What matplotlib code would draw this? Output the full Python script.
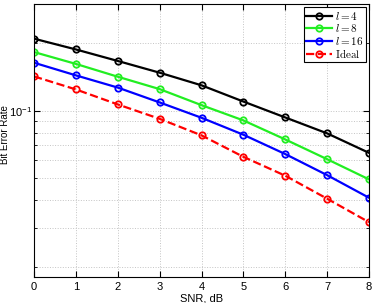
import numpy as np
import matplotlib.pyplot as plt
from matplotlib.ticker import LogLocator, NullFormatter

plt.rcParams['font.family'] = ['Liberation Sans', 'DejaVu Sans']
plt.rcParams['mathtext.fontset'] = 'cm'

snr = np.arange(0, 9)
ber_l4 = [0.210, 0.188, 0.167, 0.148, 0.130, 0.110, 0.0934, 0.0793, 0.0649]
ber_l8 = [0.183, 0.162, 0.142, 0.125, 0.106, 0.0906, 0.0745, 0.0608, 0.0494]
ber_l16 = [0.164, 0.144, 0.127, 0.109, 0.0931, 0.0782, 0.0641, 0.0516, 0.0409]
ber_ideal = [0.1425, 0.1246, 0.1068, 0.0921, 0.0777, 0.0623, 0.0513, 0.0405, 0.0318]

fig = plt.figure(figsize=(3.75, 3.03), dpi=100)
ax = fig.add_axes([34/375, 1 - 277/303, 335/375, 273/303])

style = dict(marker='o', markersize=4.6, markerfacecolor='none', markeredgewidth=1.3, linewidth=1.6)
ax.plot(snr, ber_l4, color='k', label=r'$l = 4$', **style)
ax.plot(snr, ber_l8, color='#22ee22', label=r'$l = 8$', **style)
ax.plot(snr, ber_l16, color='#0000ff', label=r'$l = 16$', **style)
ax.plot(snr, ber_ideal, color='#ff0000', linestyle='--', label=r'$\mathrm{Ideal}$', **style)

ax.set_yscale('log')
ax.set_xlim(0, 8)
ax.set_ylim(0.0181, 0.3)
ax.set_xticks(snr)
ax.yaxis.set_major_locator(LogLocator(base=10, numticks=10))
ax.yaxis.set_minor_locator(LogLocator(base=10, subs=np.arange(2, 10), numticks=10))
ax.yaxis.set_minor_formatter(NullFormatter())

ax.grid(True, which='major', linestyle=':', color='#c4c4c4', linewidth=0.7)
ax.grid(True, which='minor', axis='y', linestyle=':', color='#c4c4c4', linewidth=0.7)
ax.tick_params(which='both', direction='in', top=True, right=True, labelsize=8)
ax.tick_params(which='major', length=4)
ax.tick_params(which='minor', length=2)
ax.tick_params(axis='y', pad=1.5)

ax.set_xlabel('SNR, dB', fontsize=8, labelpad=1)
ax.set_ylabel('Bit Error Rate', fontsize=7)
ax.yaxis.set_label_coords(-0.071, 0.52)

leg = ax.legend(loc='upper right', fontsize=8, fancybox=False, framealpha=1,
                edgecolor='k', borderpad=0.2, labelspacing=0.05, handlelength=2.3,
                handletextpad=0.3, borderaxespad=0.3)
leg.get_frame().set_linewidth(0.8)

fig.savefig('out.png', dpi=100)
